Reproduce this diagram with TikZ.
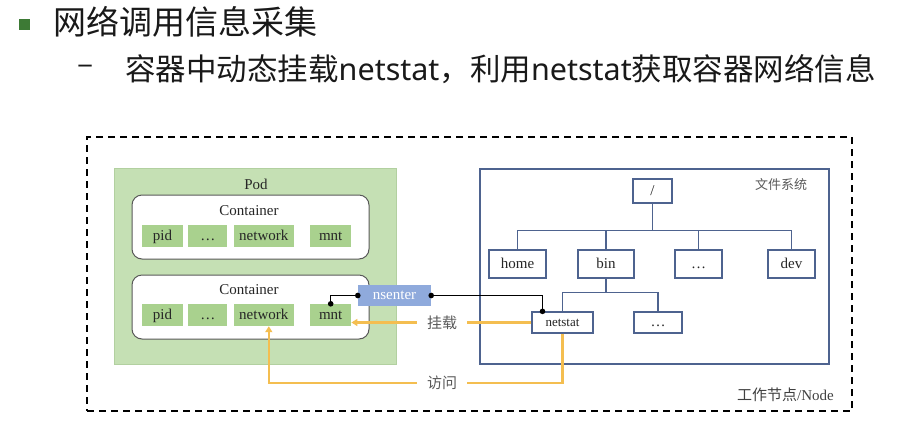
\documentclass[tikz,border=0pt]{standalone}
\usepackage{fontspec}
\setmainfont{Liberation Serif}
\newfontfamily\cjk{Noto Sans CJK SC}
\newfontfamily\hsans{Noto Sans}
\usepackage{tikz}
\usetikzlibrary{arrows.meta,positioning}
\tikzset{>/.tip={Triangle[length=6pt,width=7pt]}}
\tikzset{dot/.tip={Circle[length=5.5pt]}}
\definecolor{podgreen}{RGB}{197,224,180}
\definecolor{podedge}{RGB}{178,208,160}
\definecolor{nsgreen}{RGB}{169,209,142}
\definecolor{nsblue}{RGB}{143,170,220}
\definecolor{fsblue}{RGB}{78,99,143}
\definecolor{gold}{RGB}{244,190,80}
\definecolor{bullet}{RGB}{61,122,53}

\begin{document}
\begin{tikzpicture}[x=1pt,y=-1pt,inner sep=0pt,font=\fontsize{15}{17}\selectfont,text=black!85,
    ns/.style={fill=nsgreen,minimum height=22pt,text height=11pt,text depth=3pt},
    fsbox/.style={draw=fsblue,line width=1.3pt,fill=white,minimum height=28pt,text height=11pt,text depth=3pt},
    tree/.style={draw=fsblue,line width=1.3pt},
    link/.style={line width=1.2pt,dot-dot,shorten <=-2.75pt,shorten >=-2.75pt},
    yline/.style={draw=gold,line width=2.4pt},
    lbl/.style={text=black!65,font=\cjk\fontsize{15}{17}\selectfont,inner xsep=10pt}]
  \useasboundingbox (0,0) rectangle (902,432);
  \node(bullet)[fill=bullet,minimum size=11pt] at (24.5,24.5){};
  \node(title)[anchor=west,text=black!90,font=\cjk\fontsize{33}{36}\selectfont] at (53,22){网络调用信息采集};
  \node(dash)[text=black!90,font=\cjk\fontsize{30}{32}\selectfont] at (86,70){–};
  \node(sub)[anchor=west,text=black!90,font=\cjk\fontsize{30.5}{32}\selectfont] at (125,69){容器中动态挂载{\hsans netstat}，利用{\hsans netstat}获取容器网络信息};

  \node(worker)[draw=black,line width=1.8pt,dash pattern=on 7pt off 5pt,minimum width=765pt,minimum height=274pt] at (469.5,274){};
  \node(workerlbl)[anchor=east,text=black!75] at (834,395){{\cjk 工作节点}/Node};

  \node(pod)[fill=podgreen,draw=podedge,minimum width=282pt,minimum height=196pt] at (255,266){};
  \node(podlbl) at (256,184){Pod};
  \node(c1)[draw=black!65,line width=1pt,fill=white,rounded corners=10pt,minimum width=237pt,minimum height=64pt] at (250.5,227){};
  \node(c1lbl) at (249,211){Container};
  \node(pid1)[ns,minimum width=41pt] at (162.5,236){pid};
  \node(dots1)[ns,minimum width=39pt,right=5pt of pid1]{…};
  \node(net1)[ns,minimum width=60pt,right=6pt of dots1]{network};
  \node(mnt1)[ns,minimum width=41pt,right=16pt of net1]{mnt};
  \node(c2)[draw=black!65,line width=1pt,fill=white,rounded corners=10pt,minimum width=237pt,minimum height=64pt] at (250.5,307){};
  \node(c2lbl) at (249,290){Container};
  \node(pid2)[ns,minimum width=41pt] at (162.5,315){pid};
  \node(dots2)[ns,minimum width=39pt,right=5pt of pid2]{…};
  \node(net2)[ns,minimum width=60pt,right=6pt of dots2]{network};
  \node(mnt2)[ns,minimum width=41pt,right=16pt of net2]{mnt};
  \node(nsenter)[fill=nsblue,text=white,minimum width=73pt,minimum height=21pt,text height=11pt,text depth=3pt] at (394.5,295.5){nsenter};

  \node(fs)[draw=fsblue,line width=1.5pt,minimum width=349pt,minimum height=195pt] at (654.5,266.5){};
  \node(fslbl)[text=black!65,font=\cjk\fontsize{13}{15}\selectfont] at (781,185){文件系统};
  \node(root)[fsbox,minimum width=39pt,minimum height=24pt] at (652.5,191){/};
  \node(home)[fsbox,minimum width=57pt] at (517.5,264){home};
  \node(bin)[fsbox,minimum width=56pt] at (606,264){bin};
  \node(dots3)[fsbox,minimum width=47pt] at (698.5,264){…};
  \node(dev)[fsbox,minimum width=47pt] at (791.5,264){dev};
  \node(netstat)[fsbox,minimum width=61pt,minimum height=21pt,font=\fontsize{13}{15}\selectfont,text height=9.5pt,text depth=2.5pt] at (562.5,322.5){netstat};
  \node(dots4)[fsbox,minimum width=48pt,minimum height=21pt] at (658,322.5){…};
  \draw[tree] (root.south) -- ++(0,27) coordinate(fork1);
  \foreach \c in {home,bin,dots3,dev} \draw[tree] (fork1) -| (\c.north);
  \draw[tree] (bin.south) -- ++(0,14) coordinate(fork2);
  \foreach \c in {netstat,dots4} \draw[tree] (fork2) -| (\c.north);

  \draw[link] (mnt2.north) |- (nsenter.west);
  \draw[link] (nsenter.east) -| ([xshift=-20pt]netstat.north);

  \node(mount)[lbl] at (442,322.5){挂载};
  \node(visit)[lbl] at (442,383){访问};
  \draw[yline] (netstat.west) -- (mount.east);
  \draw[yline,->] (mount.west) -- (mnt2.east |- mount);
  \draw[yline] (netstat.south) |- (visit.east);
  \draw[yline,->] (visit.west) -| ([xshift=5pt]net2.south);
\end{tikzpicture}
\end{document}
